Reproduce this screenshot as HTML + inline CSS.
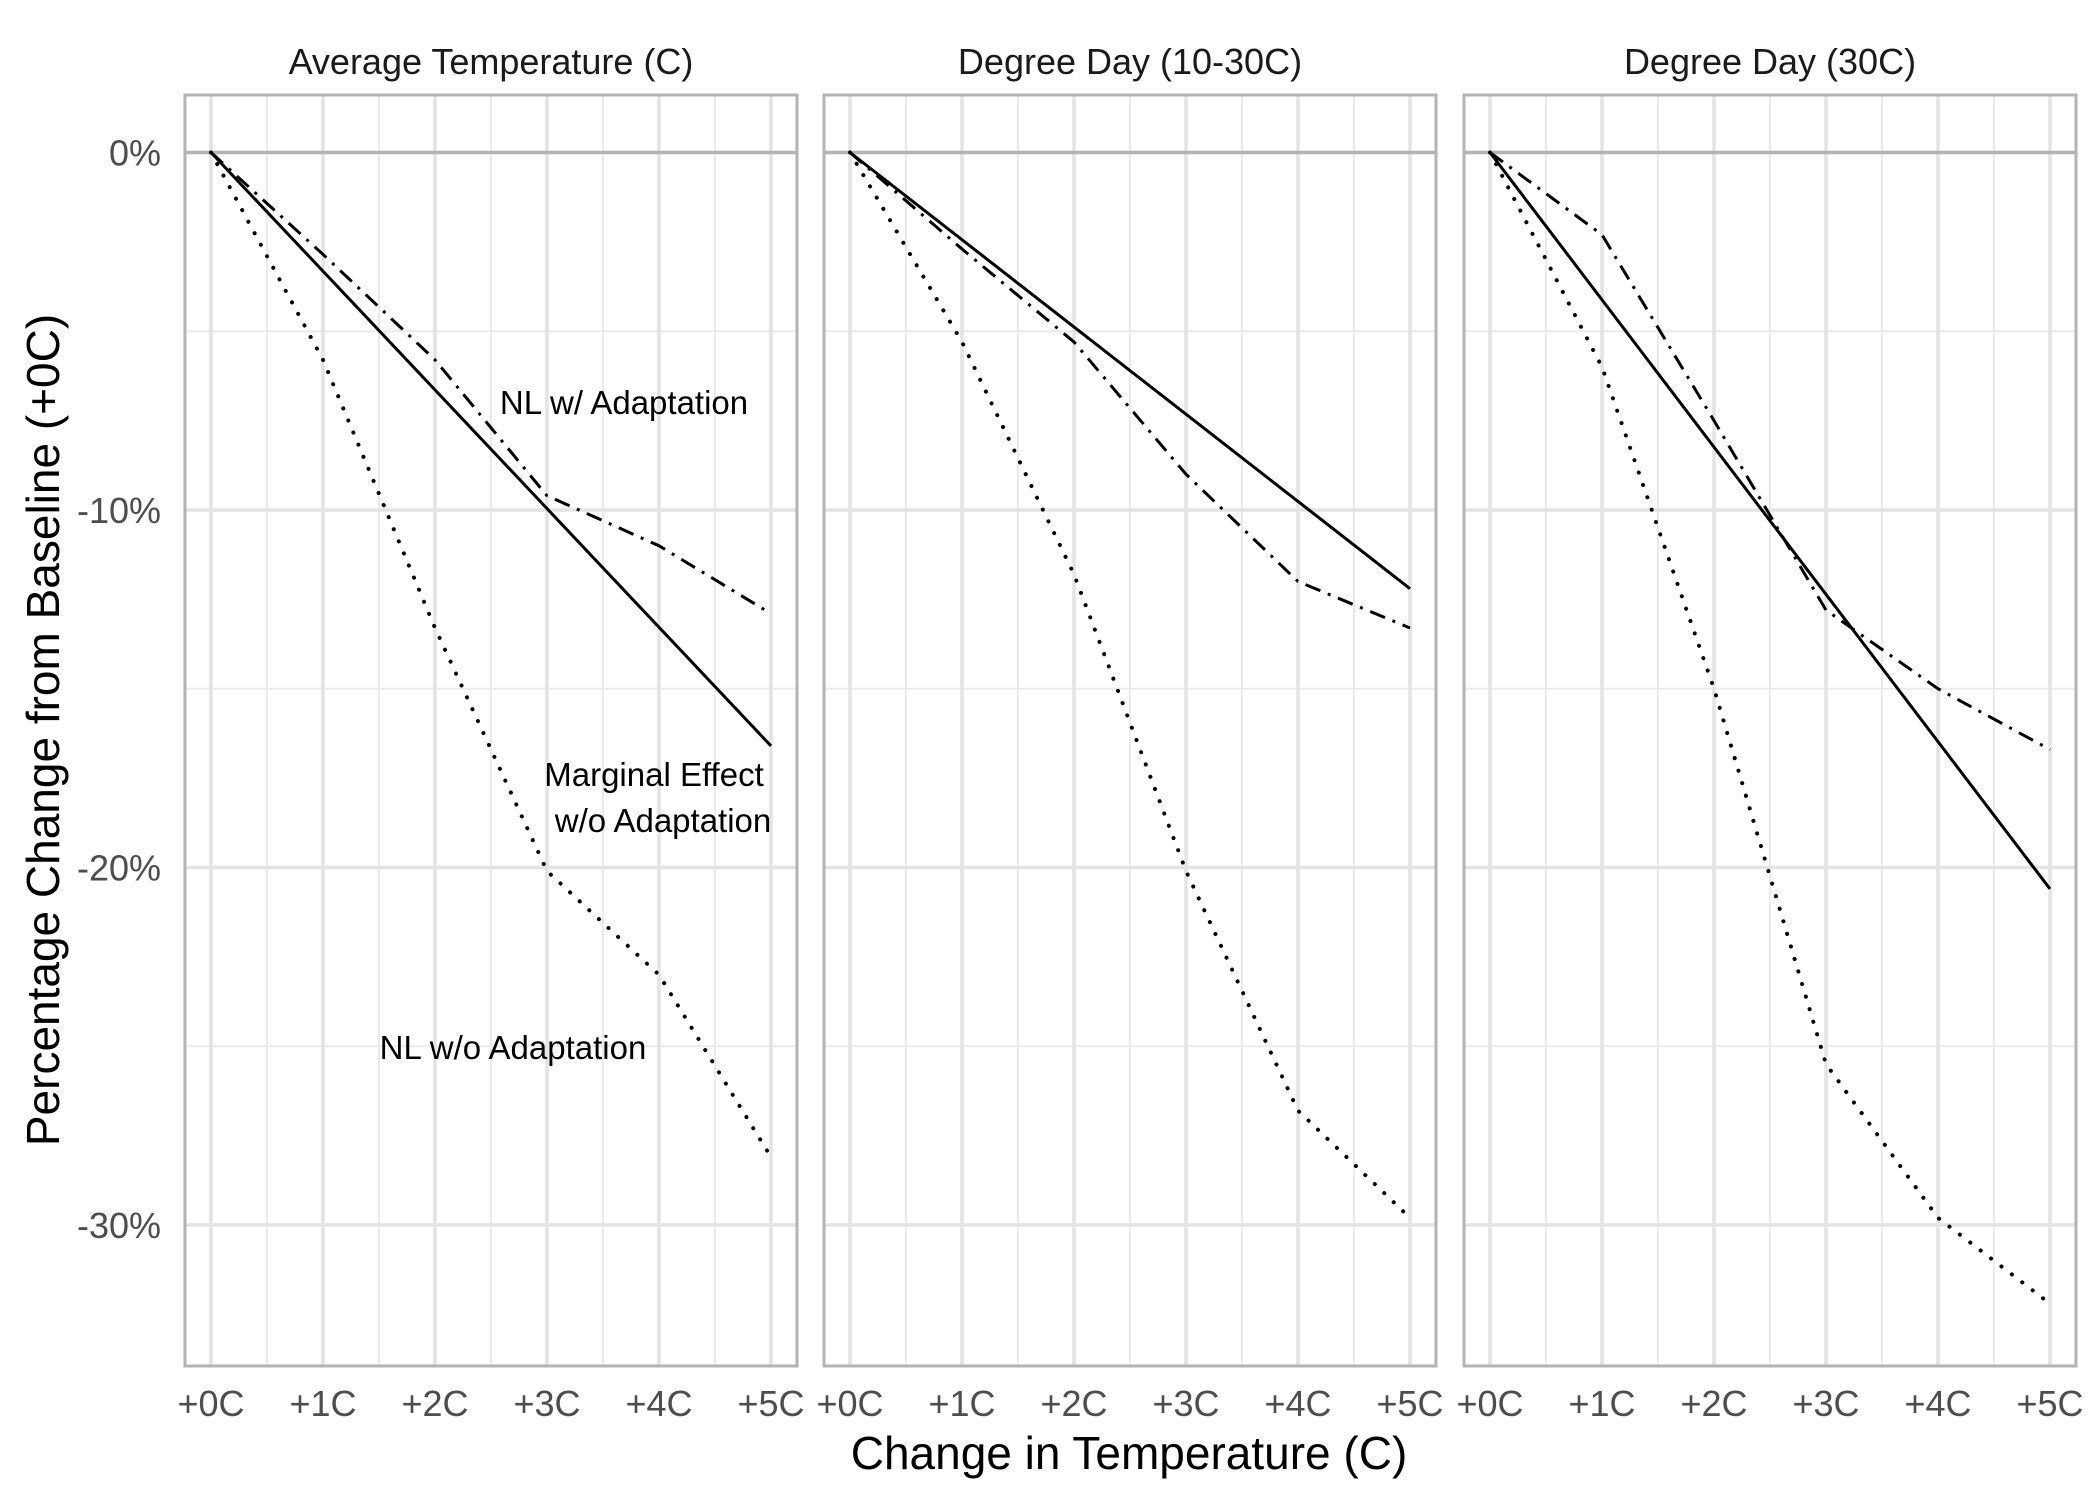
<!DOCTYPE html>
<html><head><meta charset="utf-8"><style>
html,body{margin:0;padding:0;background:#fff;}
svg{display:block;font-family:"Liberation Sans",sans-serif;}
</style></head><body>
<svg id="chart" width="2100" height="1500" viewBox="0 0 2100 1500" xmlns="http://www.w3.org/2000/svg"></svg>
<script>
const panelTitles = ["Average Temperature (C)", "Degree Day (10-30C)", "Degree Day (30C)"];
const xCats = [0, 1, 2, 3, 4, 5];
const xTickLabels = ["+0C", "+1C", "+2C", "+3C", "+4C", "+5C"];
const yTicks = [0, -10, -20, -30];
const yTickLabels = ["0%", "-10%", "-20%", "-30%"];
const marginalEnd = [-16.6, -12.2, -20.6];
const nlAdapt = [
  [0, -2.85, -5.8, -9.6, -11.0, -12.9],
  [0, -2.7, -5.3, -9.0, -12.0, -13.3],
  [0, -2.3, -7.5, -12.8, -15.0, -16.7]
];
const nlNoAdapt = [
  [0, -5.8, -13.3, -20.1, -23.0, -28.1],
  [0, -5.3, -11.8, -20.1, -26.8, -29.8],
  [0, -6.0, -15.0, -25.5, -29.8, -32.2]
];

const svg = document.getElementById('chart');
const NS = 'http://www.w3.org/2000/svg';
function mk(tag, attrs, parent) {
  const e = document.createElementNS(NS, tag);
  for (const k in attrs) e.setAttribute(k, attrs[k]);
  (parent || svg).appendChild(e);
  return e;
}
const panelLefts = [185, 824, 1464];
const panelW = 612, plotTop = 95, plotBottom = 1366;
function yS(v) { return 152.5 + (-v) * 35.75; }
function xS(p, v) { return panelLefts[p] + 26 + v * 112; }

for (let p = 0; p < 3; p++) {
  const g = mk('g', {});
  
  
  const L = panelLefts[p], R = L + panelW;
  for (let v = 0.5; v < 5; v += 1) {
    const x = xS(p, v);
    mk('line', {x1: x, x2: x, y1: plotTop, y2: plotBottom, stroke: '#ebebeb', 'stroke-width': 2}, g);
  }
  [-5, -15, -25].forEach(v => {
    mk('line', {x1: L, x2: R, y1: yS(v), y2: yS(v), stroke: '#ebebeb', 'stroke-width': 2}, g);
  });
  xCats.forEach(v => {
    const x = xS(p, v);
    mk('line', {x1: x, x2: x, y1: plotTop, y2: plotBottom, stroke: '#e3e3e3', 'stroke-width': 3.5}, g);
  });
  yTicks.forEach(v => {
    mk('line', {x1: L, x2: R, y1: yS(v), y2: yS(v), stroke: '#e3e3e3', 'stroke-width': 3.5}, g);
  });
  const z = mk('line', {x1: L, x2: R, y1: yS(0), y2: yS(0), stroke: '#b3b3b3', 'stroke-width': 3.5}, g);
  
  
  const sol = mk('line', {x1: xS(p, 0), y1: yS(0), x2: xS(p, 5), y2: yS(marginalEnd[p]), stroke: '#000', 'stroke-width': 3}, g);
  
  
  const dd = mk('polyline', {points: xCats.map((c, i) => xS(p, c) + ',' + yS(nlAdapt[p][i])).join(' '), fill: 'none', stroke: '#000', 'stroke-width': 3, 'stroke-dasharray': '16 8 3 8'}, g);
  
  
  const dt = mk('polyline', {points: xCats.map((c, i) => xS(p, c) + ',' + yS(nlNoAdapt[p][i])).join(' '), fill: 'none', stroke: '#000', 'stroke-width': 4, 'stroke-dasharray': '0.1 13', 'stroke-linecap': 'round'}, g);
  
  
  const b = mk('rect', {x: L, y: plotTop, width: panelW, height: plotBottom - plotTop, fill: 'none', stroke: '#b3b3b3', 'stroke-width': 3}, g);
  
  
  const t = mk('text', {x: L + panelW / 2, y: 74, 'text-anchor': 'middle', 'font-size': 36, fill: '#1a1a1a'}, g);
  t.textContent = panelTitles[p];
  
  
  xCats.forEach((v, i) => {
    const tl = mk('text', {x: xS(p, v), y: 1416, 'text-anchor': 'middle', 'font-size': 36, fill: '#4d4d4d'}, g);
    tl.textContent = xTickLabels[i];
    
    
  });
}
yTicks.forEach((v, i) => {
  const tl = mk('text', {x: 161, y: yS(v) + 13, 'text-anchor': 'end', 'font-size': 36, fill: '#4d4d4d'});
  tl.textContent = yTickLabels[i];
  
  
});
function label(txt, x, y, name, size, anchor, fill) {
  const t = mk('text', {x: x, y: y, 'text-anchor': anchor || 'middle', 'font-size': size || 33, fill: fill || '#000'});
  t.textContent = txt;
  
  
  return t;
}
label('NL w/ Adaptation', 624, 414, 'nl-adaptation-label');
label('Marginal Effect', 654, 786, 'marginal-effect-label');
label('w/o Adaptation', 663, 832, 'marginal-effect-label-2');
label('NL w/o Adaptation', 513, 1059, 'nl-no-adaptation-label');
label('Change in Temperature (C)', 1129, 1469, 'x-axis-title', 46);
const yt = label('Percentage Change from Baseline (+0C)', 0, 0, 'y-axis-title', 46);
yt.setAttribute('transform', 'translate(59,730) rotate(-90)');
</script>
</body></html>
